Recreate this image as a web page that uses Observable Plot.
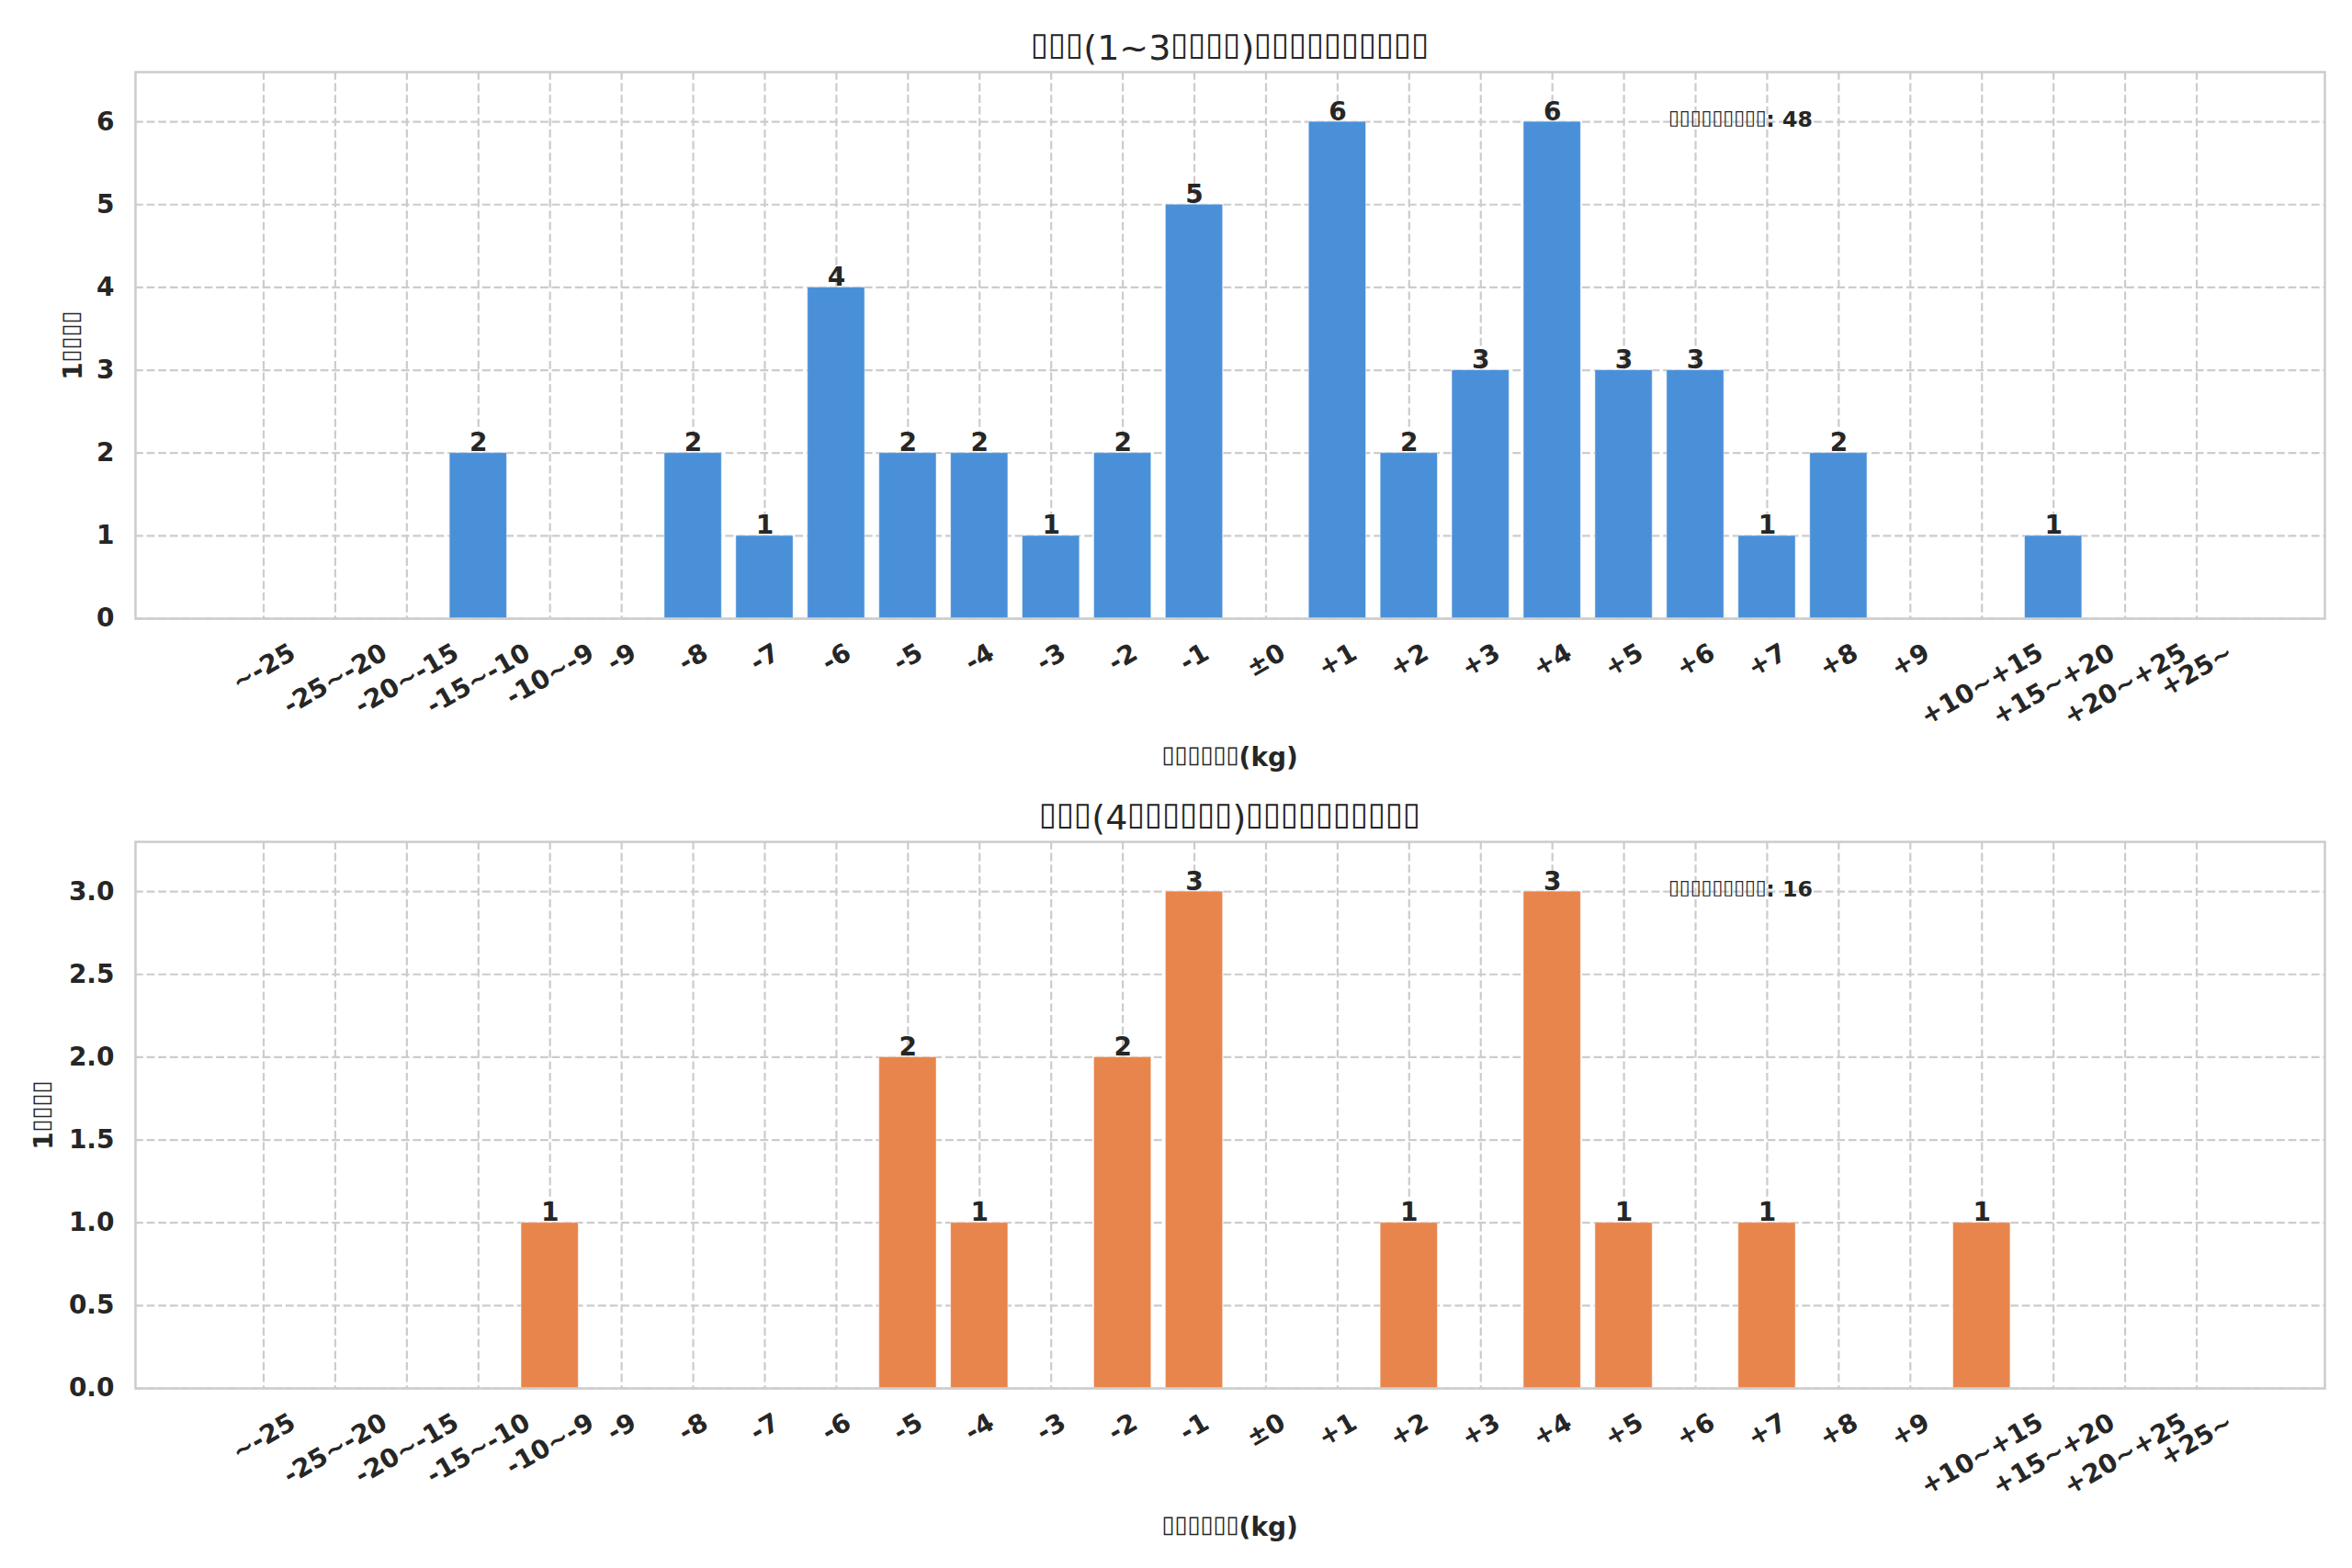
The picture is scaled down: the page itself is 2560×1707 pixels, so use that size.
<!DOCTYPE html>
<html>
<head>
<meta charset="utf-8">
<script src="https://cdn.jsdelivr.net/npm/d3@7"></script>
<script src="https://cdn.jsdelivr.net/npm/@observablehq/plot@0.6"></script>
<style>
html, body { margin: 0; padding: 0; background: #ffffff; }
#chart { width: 2560px; height: 1707px; overflow: hidden; background: #ffffff; }
#chart svg { display: block; }
</style>
</head>
<body>
<div id="chart"></div>
<script>
// ---- data ----
const categories = ["~-25","-25~-20","-20~-15","-15~-10","-10~-9","-9","-8","-7","-6","-5","-4","-3","-2","-1","±0","+1","+2","+3","+4","+5","+6","+7","+8","+9","+10~+15","+15~+20","+20~+25","+25~"];
const shortTermCounts = [0,0,0,2,0,0,2,1,4,2,2,1,2,5,0,6,2,3,6,3,3,1,2,0,0,1,0,0];
const longTermCounts  = [0,0,0,0,1,0,0,0,0,2,1,0,2,3,0,0,1,0,3,1,0,1,0,0,1,0,0,0];
const shortYTicks = [0,1,2,3,4,5,6];
const longYTicks = [0,0.5,1,1.5,2,2.5,3];
const shortYMax = 6.6;
const longYMax = 3.3;
// The reference shows its Japanese labels as missing-glyph boxes; they are kept as box characters.
const shortTitle = "▯▯▯(1~3▯▯▯▯)▯▯▯▯▯▯▯▯▯▯";
const longTitle  = "▯▯▯(4▯▯▯▯▯▯)▯▯▯▯▯▯▯▯▯▯";
const xLabel = "▯▯▯▯▯▯(kg)";
const yLabel = "1▯▯▯▯";
const shortNote = "▯▯▯▯▯▯▯▯▯: 48";
const longNote  = "▯▯▯▯▯▯▯▯▯: 16";
const shortColor = "#4A90D9";
const longColor = "#E8854C";

// ---- layout ----
const W = 2560;
const ML = 147, MR = 30;
const plotW = W - ML - MR;
const TXT = "#262626";
const FONT = "DejaVu Sans";
const BOX = "▯";

const ctx = document.createElement("canvas").getContext("2d");
ctx.font = `bold 28px '${FONT}'`;
const sin30 = 0.5, cos30 = Math.sqrt(3) / 2;

function panel({counts, yTicks, yMax, title, note, color, height, marginTop, marginBottom, yFmt, yLabelDx}) {
  const data = categories.map((c, i) => ({cat: c, count: counts[i]}));
  const plotH = height - marginTop - marginBottom;
  const tickLabelMarks = categories.map(c => {
    const w = ctx.measureText(c).width;
    const off = 26 + (w * sin30 + 20.4 * cos30) / 2;
    return Plot.text([c], {
      x: d => d, text: d => d, frameAnchor: "bottom", dy: off,
      rotate: -30, textAnchor: "middle", lineAnchor: "middle",
      fontSize: 28, fontWeight: "bold", fill: TXT
    });
  });
  return Plot.plot({
    width: W, height,
    marginTop, marginBottom, marginLeft: ML, marginRight: MR,
    style: {fontFamily: FONT, background: "#ffffff", overflow: "visible"},
    x: {type: "band", domain: categories, paddingInner: 0.2, paddingOuter: 1.39, align: 0.5, round: false, axis: null},
    y: {domain: [0, yMax], axis: null},
    marks: [
      Plot.ruleX(categories, {x: d => d, stroke: "#cccccc", strokeWidth: 2.2, strokeDasharray: "8.8,3.8"}),
      Plot.ruleY(yTicks, {y: d => d, stroke: "#cccccc", strokeWidth: 2.2, strokeDasharray: "8.8,3.8"}),
      Plot.barY(data, {x: "cat", y: "count", fill: color, stroke: "#ffffff", strokeWidth: 1, strokeOpacity: 0.5}),
      Plot.frame({stroke: "#cccccc", strokeWidth: 2.5}),
      Plot.text(data.filter(d => d.count > 0), {
        x: "cat", y: "count", text: d => String(d.count),
        lineAnchor: "bottom", dy: -2, fontSize: 28, fontWeight: "bold", fill: TXT
      }),
      Plot.text(yTicks, {
        y: d => d, text: d => yFmt(d), frameAnchor: "left", textAnchor: "end", lineAnchor: "middle",
        dx: -23, fontSize: 28, fontWeight: "bold", fill: TXT
      }),
      Plot.text([yLabel], {
        text: d => d, frameAnchor: "left", rotate: -90, textAnchor: "middle", lineAnchor: "middle",
        dx: yLabelDx, fontSize: 28, fontWeight: "bold", fill: TXT
      }),
      ...tickLabelMarks,
      Plot.text([xLabel], {
        text: d => d, frameAnchor: "bottom", textAnchor: "middle", lineAnchor: "bottom",
        dy: 160, fontSize: 28, fontWeight: "bold", fill: TXT
      }),
      Plot.text([title], {
        text: d => d, frameAnchor: "top", textAnchor: "middle", lineAnchor: "bottom",
        dy: -14, fontSize: 38, fill: TXT
      }),
      Plot.text([note], {
        text: d => d, frameAnchor: "top-left", textAnchor: "start", lineAnchor: "bottom",
        dx: 0.7 * plotW, dy: 0.1 * plotH, fontSize: 23.7, fontWeight: "bold", fill: TXT
      })
    ]
  });
}

// Missing-glyph boxes in the reference are narrow, tall outlines (about half an em per box,
// cap-height tall, standing on the baseline): size and re-space the box characters to match.
function narrowBoxes(svg) {
  const c = document.createElement("canvas").getContext("2d");
  svg.querySelectorAll("text").forEach(t => {
    const s = t.textContent;
    if (!s.includes(BOX)) return;
    const cs = getComputedStyle(t);
    const fs = parseFloat(cs.fontSize);
    const fw = cs.fontWeight;
    const fam = cs.fontFamily;
    const chars = Array.from(s);
    const cell = 0.5 * fs;
    c.font = `normal ${fs}px ${fam}`;
    let bm = c.measureText(BOX);
    const inkH = (bm.actualBoundingBoxAscent + bm.actualBoundingBoxDescent) || 0.72 * fs;
    const scale = Math.max(0.8, Math.min(1.6, (0.73 * fs) / inkH));
    const bfs = fs * scale;
    c.font = `normal ${bfs}px ${fam}`;
    bm = c.measureText(BOX);
    const inkCenter = (bm.actualBoundingBoxRight - bm.actualBoundingBoxLeft) / 2;
    const shift = -(bm.actualBoundingBoxDescent || 0);
    const o = cell / 2 - inkCenter;
    while (t.firstChild) t.removeChild(t.firstChild);
    let cellStart = 0, prevDesired = 0, prevAdv = 0, prevBox = false;
    chars.forEach((ch, i) => {
      const isBox = ch === BOX;
      c.font = isBox ? `normal ${bfs}px ${fam}` : `${fw} ${fs}px ${fam}`;
      const adv = c.measureText(ch).width;
      const desired = cellStart + (isBox ? o : 0);
      const dx = i === 0 ? desired : desired - prevDesired - prevAdv;
      const ts = document.createElementNS("http://www.w3.org/2000/svg", "tspan");
      ts.setAttribute("dx", dx.toFixed(2));
      if (isBox && !prevBox && shift) ts.setAttribute("dy", shift.toFixed(2));
      if (!isBox && prevBox && shift) ts.setAttribute("dy", (-shift).toFixed(2));
      if (isBox) {
        ts.setAttribute("font-weight", "normal");
        ts.setAttribute("font-size", bfs.toFixed(2));
      }
      ts.textContent = ch;
      t.appendChild(ts);
      prevDesired = desired;
      prevAdv = adv;
      prevBox = isBox;
      cellStart += isBox ? cell : adv;
    });
  });
}

const chart = document.getElementById("chart");
const p1 = panel({
  counts: shortTermCounts, yTicks: shortYTicks, yMax: shortYMax, title: shortTitle, note: shortNote,
  color: shortColor, height: 853, marginTop: 78, marginBottom: 180, yFmt: d3.format("d"), yLabelDx: -67
});
const p2 = panel({
  counts: longTermCounts, yTicks: longYTicks, yMax: longYMax, title: longTitle, note: longNote,
  color: longColor, height: 854, marginTop: 63, marginBottom: 196, yFmt: d3.format(".1f"), yLabelDx: -99
});
chart.append(p1, p2);
narrowBoxes(p1);
narrowBoxes(p2);
</script>
</body>
</html>
